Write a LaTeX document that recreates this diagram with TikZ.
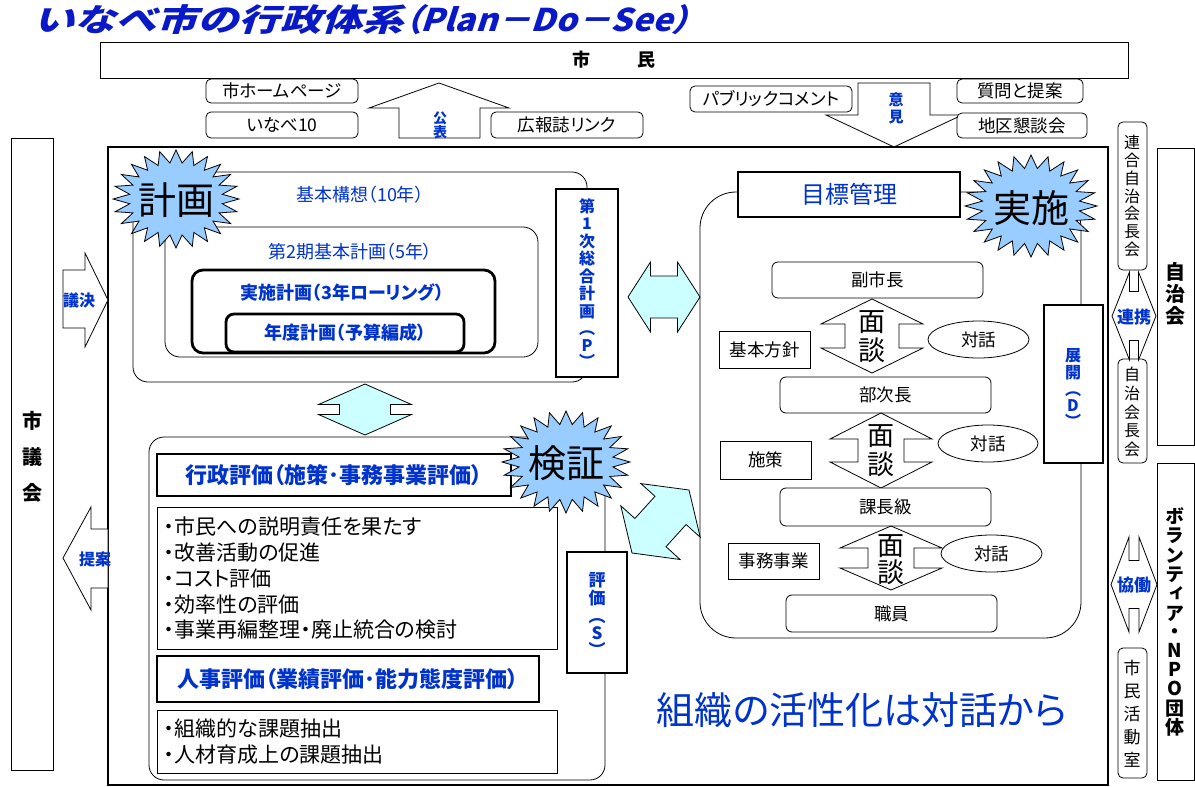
\documentclass[tikz,border=0pt]{standalone}
\usepackage{graphicx}
\usepackage{fontspec}
\setmainfont{Noto Sans CJK JP}[RawFeature=+palt]
\newfontfamily\vfont{Noto Sans CJK JP}[RawFeature=+vert]
\newfontfamily\titlefont{Noto Sans CJK JP}[FakeSlant=0.3, RawFeature=+palt]
\newfontfamily\titlefontsp{Noto Sans CJK JP}[FakeSlant=0.3, FakeStretch=1.22]
\usetikzlibrary{shapes.geometric}
\definecolor{tblue}{RGB}{0,51,204}
\definecolor{starblue}{RGB}{153,204,255}
\definecolor{lcyan}{RGB}{204,255,255}
\definecolor{ttlblue}{RGB}{10,25,200}
\newcommand\myfs[1]{\fontsize{#1}{#1}\selectfont}
\newcommand\myfsb[2]{\fontsize{#1}{#2}\selectfont}
% name x1 y1 x2 y2 style text
\newcommand\mybox[7]{\node[#6, minimum width={(#4)-(#2)}, minimum height={(#5)-(#3)}] (#1) at ({((#2)+(#4))/2},{((#3)+(#5))/2}) {#7};}
% name cx cy rx ry
\newcommand\mystar[5]{\coordinate (#1) at (#2,#3);
 \draw[starshape] ({#2+#4},#3) \foreach \i in {1,...,47}{ -- ({#2+ifthenelse(mod(\i,2)==0,1,0.74)*#4*cos(\i*7.5)},{#3+ifthenelse(mod(\i,2)==0,1,0.74)*#5*sin(\i*7.5)}) } -- cycle;}
% style cx top bottom headhalf shafthalf headlen
\newcommand\udarrow[7]{\draw[#1] (#2,#3) -- ({#2+#5},{#3+#7}) -- ({#2+#6},{#3+#7}) -- ({#2+#6},{#4-#7}) -- ({#2+#5},{#4-#7}) -- (#2,#4) -- ({#2-#5},{#4-#7}) -- ({#2-#6},{#4-#7}) -- ({#2-#6},{#3+#7}) -- ({#2-#5},{#3+#7}) -- cycle;}
% style cy left right headhalf shafthalf headlen
\newcommand\lrarrow[7]{\draw[#1] (#3,#2) -- ({#3+#7},{#2-#5}) -- ({#3+#7},{#2-#6}) -- ({#4-#7},{#2-#6}) -- ({#4-#7},{#2-#5}) -- (#4,#2) -- ({#4-#7},{#2+#5}) -- ({#4-#7},{#2+#6}) -- ({#3+#7},{#2+#6}) -- ({#3+#7},{#2+#5}) -- cycle;}
\tikzset{
 tbox/.style={draw, line width=0.8pt, fill=white, inner sep=0pt, font=\myfs{17.5}},
 kbox/.style={draw, line width=2.8pt, fill=white, inner sep=0pt},
 rbox/.style={draw, line width=0.8pt, fill=white, rounded corners=5pt, inner sep=0pt, font=\myfs{17.5}},
 region/.style={draw, line width=0.8pt, inner sep=0pt},
 blockarrow/.style={draw, line width=0.8pt, fill=white},
 cyanarrow/.style={draw, line width=0.8pt, fill=lcyan},
 starshape/.style={draw, line width=0.8pt, fill=starblue},
 lbl/.style={inner sep=0pt, font=\myfs{16}},
 bluelbl/.style={inner sep=0pt, text=tblue, font=\bfseries\myfs{16}},
 vlbl/.style={inner sep=0pt, align=center},
 ellbox/.style={draw, line width=0.8pt, fill=white, ellipse, inner sep=0pt, minimum width=101pt, minimum height=37pt, font=\myfs{17.5}},
}
\begin{document}
\begin{tikzpicture}[x=1pt,y=-1pt]
\useasboundingbox (0,0) rectangle (1195,787);
\fill[white] (0,0) rectangle (1195,787);

% title
\node[anchor=base west, inner sep=0pt, text=ttlblue] (title) at (33,31) {\resizebox{656pt}{27pt}{\bfseries{\titlefontsp いなべ市の行政体系}{\titlefont （Plan－Do－See）}}};

% citizens
\mybox{shimin}{100}{42}{1128}{78}{tbox, font=\bfseries\myfs{18}}{市\hspace{48pt}民}
\draw[blockarrow] (439,83) -- (509,108) -- (480,108) -- (480,138) -- (399,138) -- (399,108) -- (369,108) -- cycle;
\node[bluelbl, vlbl, font=\bfseries\myfsb{14}{13}] (kohyo) at (440,125) {公\\表};
\mybox{hp}{206}{79}{358}{103}{rbox}{市ホームページ}
\mybox{inabe}{206}{112}{358}{138}{rbox}{いなべ10}
\mybox{kohoshi}{491}{112}{643}{138}{rbox}{広報誌リンク}
\draw[blockarrow] (858,83) -- (930,83) -- (930,115) -- (962,115) -- (894,147) -- (826,115) -- (858,115) -- cycle;
\node[bluelbl, vlbl, font=\bfseries\myfsb{15}{17}] (iken) at (896,108) {意\\見};
\mybox{pubcom}{690}{86}{852}{112}{rbox}{パブリックコメント}
\mybox{shitsumon}{957}{79}{1083}{103}{rbox}{質問と提案}
\mybox{chiku}{957}{113}{1087}{138}{rbox}{地区懇談会}

% main frame
\mybox{main}{108}{147}{1108}{785}{draw, line width=2.8pt, inner sep=0pt}{}

% city council
\mybox{gikai}{11}{138}{53}{770}{tbox}{}
\node[lbl, vlbl, font=\bfseries\myfsb{20}{36}] (gikaitxt) at (32,457) {市\\議\\会};
\draw[blockarrow] (63,270) -- (85,270) -- (85,253) -- (108,300) -- (85,347) -- (85,328) -- (63,328) -- cycle;
\node[bluelbl] (giketsu) at (79,300) {議決};
\draw[blockarrow] (63,558) -- (91,507) -- (91,529) -- (108,529) -- (108,588) -- (91,588) -- (91,610) -- cycle;
\node[bluelbl] (teian) at (95,559) {提案};

% right column
\mybox{rengo}{1118}{122}{1147}{270}{rbox}{}
\node[lbl, vlbl, font=\vfont\myfsb{16}{17.7}] (rengotxt) at (1132,196) {連\\合\\自\\治\\会\\長\\会};
\mybox{jichicho}{1118}{359}{1147}{463}{rbox}{}
\node[lbl, vlbl, font=\vfont\myfsb{16}{18.8}] (jichichotxt) at (1132,412) {自\\治\\会\\長\\会};
\lrarrow{blockarrow}{316}{1112}{1156}{44}{24.5}{17.5}
\node[bluelbl, font=\bfseries\myfs{17}] (renkei) at (1134,317) {連携};
\mybox{jichikai}{1157}{148}{1194}{445}{tbox}{}
\node[lbl, vlbl, font=\vfont\bfseries\myfsb{20}{22}] (jichikaitxt) at (1175,294) {自\\治\\会};
\mybox{volunteer}{1157}{463}{1194}{780}{tbox}{}
\node[lbl, vlbl, font=\vfont\bfseries\myfsb{19}{19.4}] (voltxt) at (1175,622) {ボ\\ラ\\ン\\テ\\ィ\\ア\\[-1pt]・\\[-1pt]N\\P\\O\\団\\体};
\mybox{katsudo}{1118}{648}{1147}{778}{rbox}{}
\node[lbl, vlbl, font=\vfont\myfsb{17}{23}] (katsudotxt) at (1132,714) {市\\民\\活\\動\\室};
\lrarrow{blockarrow}{584.5}{1111}{1157}{47.5}{24}{18}
\node[bluelbl, font=\bfseries\myfs{17}] (kyodo) at (1134,585) {協働};

% PLAN region
\mybox{keikaku}{133}{172}{587}{382}{region, rounded corners=15pt}{}
\node[lbl, text=tblue, font=\myfs{18}] (kihonkoso) at (360,195) {基本構想（10年）};
\mybox{daini}{165}{227}{538}{357}{region, rounded corners=15pt}{}
\node[lbl, text=tblue, font=\myfs{18}] (dainitxt) at (350,252) {第2期基本計画（5年）};
\mybox{jkeikaku}{192}{270}{495}{353}{kbox, rounded corners=11pt}{}
\node[bluelbl, font=\bfseries\myfs{18}] (jkeikakutxt) at (342,293) {実施計画（3年ローリング）};
\mybox{nendo}{226}{314}{464}{352}{kbox, rounded corners=8pt, font=\bfseries\myfs{18}, text=tblue}{年度計画（予算編成）}
\mybox{daiichi}{556}{189}{618}{377}{kbox}{}
\node[bluelbl, vlbl, font=\vfont\bfseries\myfsb{16}{17.5}] (daiichitxt) at (587,283) {第\\1\\次\\総\\合\\計\\画\\︵\\[-1pt]P\\[-1pt]︶};
\mystar{keikakustar}{176}{199}{63}{49}
\node[inner sep=0pt, font=\myfs{38}] (keikakutxt) at (176,200) {計画};

% CHECK region
\mybox{kensho}{149}{437}{605}{780}{region, rounded corners=15pt}{}
\mybox{gyosei}{157}{454}{511}{496}{kbox, font=\bfseries\myfs{22}, text=tblue}{行政評価（施策･事務事業評価）}
\mybox{list1}{157}{507}{557}{649}{tbox}{}
\node[inner sep=0pt, anchor=west, align=left, font=\myfsb{21}{25.75}] (list1txt) at (164,578.5) {・市民への説明責任を果たす\\・改善活動の促進\\・コスト評価\\・効率性の評価\\・事業再編整理・廃止統合の検討};
\mybox{jinji}{157}{656}{539}{702}{kbox, font=\bfseries\myfs{22}, text=tblue}{人事評価（業績評価･能力態度評価）}
\mybox{list2}{157}{710}{557}{773}{tbox}{}
\node[inner sep=0pt, anchor=west, align=left, font=\myfsb{21}{26.5}] (list2txt) at (164,741.5) {・組織的な課題抽出\\・人材育成上の課題抽出};
\mybox{hyoka}{567}{552}{627}{673}{kbox}{}
\node[bluelbl, vlbl, font=\vfont\bfseries\myfsb{17}{18}] (hyokatxt) at (597,614) {評\\価\\︵\\[-1pt]S\\[-1pt]︶};
\mystar{kenshostar}{566}{462}{64}{51}
\node[inner sep=0pt, font=\myfs{38}] (kenshotxt) at (566,463) {検証};

% DO region
\mybox{jisshi}{700}{192}{1081}{638}{region, rounded corners=36pt}{}
\mybox{mokuhyo}{738}{172}{960}{217}{kbox, font=\myfs{24}, text=tblue}{目標管理}
\mybox{fukushicho}{772}{262}{983}{298}{rbox, rounded corners=6pt}{副市長}
\udarrow{blockarrow}{872}{299}{373}{51}{27}{25}
\node[lbl, vlbl, font=\myfsb{27}{29}] (mendan1) at (872,337) {面\\談};
\mybox{hoshin}{719}{331}{810}{368}{tbox}{基本方針}
\node[ellbox] (taiwa1) at (978.5,339.5) {対話};
\mybox{bujicho}{780}{377}{991}{413}{rbox, rounded corners=6pt}{部次長}
\udarrow{blockarrow}{881}{413}{488}{51}{23}{26}
\node[lbl, vlbl, font=\myfsb{27}{29}] (mendan2) at (881,451) {面\\談};
\mybox{shisaku}{720}{441}{811}{479}{tbox}{施策}
\node[ellbox, minimum width=100pt] (taiwa2) at (988,443.5) {対話};
\mybox{kachokyu}{780}{488}{991}{526}{rbox, rounded corners=6pt}{課長級}
\udarrow{blockarrow}{891}{526}{590}{51}{23}{22}
\node[lbl, vlbl, font=\myfsb{27}{27}] (mendan3) at (891,560) {面\\談};
\mybox{jimu}{728}{543}{819}{579}{tbox}{事務事業}
\node[ellbox] (taiwa3) at (991.5,553.5) {対話};
\mybox{shokuin}{786}{595}{997}{632}{rbox, rounded corners=6pt}{職員}
\mybox{tenkai}{1044}{305}{1103}{463}{kbox}{}
\node[bluelbl, vlbl, font=\vfont\bfseries\myfsb{16}{17}] (tenkaitxt) at (1073,388) {展\\開\\︵\\[-1pt]D\\[-1pt]︶};
\mystar{jisshistar}{1031}{206}{66}{51}
\node[inner sep=0pt, font=\myfs{38}] (jisshitxt) at (1031,208) {実施};

% cyan double arrows
\lrarrow{cyanarrow}{297}{628}{700}{35}{21}{22.5}
\udarrow{cyanarrow}{365}{384}{435}{46.5}{25.5}{20.5}
\draw[cyanarrow] (689.0,490.0) -- (700.2,537.2) -- (686.1,524.5) -- (666.0,546.7) -- (680.1,559.5) -- (632.0,553.0) -- (620.8,505.8) -- (634.9,518.5) -- (655.0,496.3) -- (640.9,483.6) -- cycle;

% slogan
\node[inner sep=0pt, text=tblue, font=\myfs{38}] (slogan) at (862,710) {組織の活性化は対話から};
\end{tikzpicture}
\end{document}
